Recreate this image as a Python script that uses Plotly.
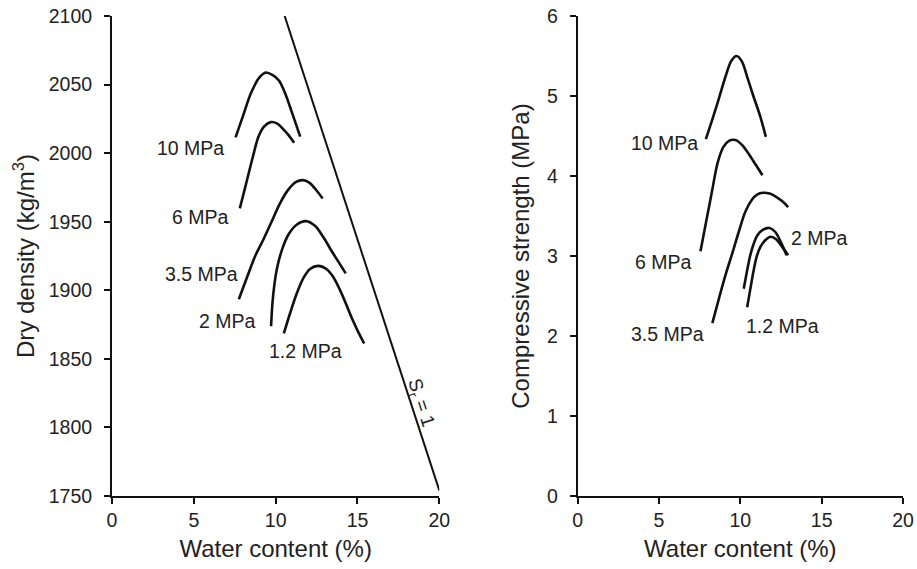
import plotly.graph_objects as go

# ---- Left panel: dry density vs water content ----
dd_10_x = [7.55, 8.0, 8.5, 9.0, 9.4, 9.8, 10.2, 10.6, 11.0, 11.5]
dd_10_y = [2011.5, 2027, 2044, 2055, 2058.8, 2057, 2053, 2043, 2029.5, 2012]
dd_6_x = [7.81, 8.2, 8.6, 8.95, 9.3, 9.7, 10.1, 10.5, 10.8, 11.13]
dd_6_y = [1959.7, 1978, 1997, 2012, 2019.5, 2022.6, 2021.5, 2017, 2013, 2007.6]
dd_35_x = [7.75, 8.25, 8.75, 9.25, 9.75, 10.25, 10.75, 11.25, 11.65, 12.05, 12.45, 12.87]
dd_35_y = [1893.5, 1909.5, 1925, 1937, 1950, 1963, 1973, 1979, 1980.3, 1978.5, 1973.5, 1967]
dd_2_x = [9.72, 9.8, 9.92, 10.1, 10.4, 10.8, 11.3, 11.85, 12.4, 12.9, 13.4, 13.85, 14.28]
dd_2_y = [1873.8, 1890, 1904, 1917, 1930, 1941, 1948, 1950.4, 1947, 1939, 1929, 1920.5, 1912.3]
dd_12_x = [10.5, 10.9, 11.3, 11.7, 12.1, 12.6, 13.1, 13.5, 13.9, 14.3, 14.7, 15.05, 15.41]
dd_12_y = [1868.5, 1884, 1898, 1909, 1915.5, 1917.8, 1915.5, 1910, 1901, 1890, 1878.5, 1869.5, 1861.2]
sat_x = [10.55, 20.0]
sat_y = [2100, 1754]

# ---- Right panel: compressive strength vs water content ----
cs_10_x = [7.88, 8.3, 8.7, 9.1, 9.45, 9.77, 10.1, 10.45, 10.8, 11.2, 11.57]
cs_10_y = [4.46, 4.72, 4.98, 5.25, 5.44, 5.5, 5.43, 5.22, 5.0, 4.76, 4.49]
cs_6_x = [7.55, 7.9, 8.25, 8.6, 8.95, 9.3, 9.7, 10.1, 10.5, 10.95, 11.36]
cs_6_y = [3.06, 3.43, 3.8, 4.16, 4.36, 4.44, 4.45, 4.39, 4.28, 4.14, 4.01]
cs_35_x = [8.28, 8.7, 9.1, 9.5, 9.9, 10.3, 10.7, 11.05, 11.4, 11.8, 12.2, 12.6, 12.94]
cs_35_y = [2.16, 2.48, 2.77, 3.03, 3.3, 3.55, 3.7, 3.77, 3.79, 3.78, 3.74, 3.68, 3.61]
cs_2_x = [10.21, 10.4, 10.6, 10.8, 11.05, 11.4, 11.8, 12.15, 12.5, 12.84]
cs_2_y = [2.59, 2.8, 3.0, 3.14, 3.26, 3.33, 3.35, 3.3, 3.17, 3.01]
cs_12_x = [10.42, 10.6, 10.8, 11.0, 11.25, 11.55, 11.86, 12.2, 12.55, 12.94]
cs_12_y = [2.36, 2.57, 2.8, 2.99, 3.12, 3.2, 3.24, 3.21, 3.12, 3.01]

left_labels = ["10 MPa", "6 MPa", "3.5 MPa", "2 MPa", "1.2 MPa"]
left_label_x = [6.95, 7.3, 7.81, 8.93, 11.85]
left_label_y = [2003.5, 1953.6, 1911.8, 1877.7, 1855.8]
left_label_anchor = ["right", "right", "right", "right", "center"]

right_labels = ["10 MPa", "6 MPa", "3.5 MPa", "2 MPa", "1.2 MPa"]
right_label_x = [7.55, 7.14, 7.88, 13.0, 10.2]
right_label_y = [4.41, 2.93, 2.02, 3.22, 2.12]
right_label_anchor = ["right", "right", "right", "left", "left"]

x_ticks = [0, 5, 10, 15, 20]
dd_ticks = [1750, 1800, 1850, 1900, 1950, 2000, 2050, 2100]
cs_ticks = [0, 1, 2, 3, 4, 5, 6]

FONT = "Liberation Sans, Arial, sans-serif"
INK = "#111111"
TXT = "#222222"

fig = go.Figure()
line = dict(color=INK, width=2.6, shape="spline", smoothing=0.9)

for xs, ys in [(dd_10_x, dd_10_y), (dd_6_x, dd_6_y), (dd_35_x, dd_35_y),
               (dd_2_x, dd_2_y), (dd_12_x, dd_12_y)]:
    fig.add_trace(go.Scatter(x=xs, y=ys, mode="lines", line=line,
                             xaxis="x", yaxis="y", showlegend=False))
fig.add_trace(go.Scatter(x=sat_x, y=sat_y, mode="lines",
                         line=dict(color=INK, width=2), xaxis="x", yaxis="y",
                         showlegend=False))

for xs, ys in [(cs_10_x, cs_10_y), (cs_6_x, cs_6_y), (cs_35_x, cs_35_y),
               (cs_2_x, cs_2_y), (cs_12_x, cs_12_y)]:
    fig.add_trace(go.Scatter(x=xs, y=ys, mode="lines", line=line,
                             xaxis="x2", yaxis="y2", showlegend=False))

annotations = []
for t, x, y, a in zip(left_labels, left_label_x, left_label_y, left_label_anchor):
    annotations.append(dict(text=t, x=x, y=y, xref="x", yref="y", xanchor=a,
                            yanchor="middle", showarrow=False,
                            font=dict(family=FONT, size=19.5, color=TXT)))
for t, x, y, a in zip(right_labels, right_label_x, right_label_y, right_label_anchor):
    annotations.append(dict(text=t, x=x, y=y, xref="x2", yref="y2", xanchor=a,
                            yanchor="middle", showarrow=False,
                            font=dict(family=FONT, size=19.5, color=TXT)))
annotations.append(dict(text="S<sub>r</sub> = 1", x=18.85, y=1818, xref="x", yref="y",
                        showarrow=False, textangle=72,
                        font=dict(family=FONT, size=19, color=TXT)))

axis_common = dict(showline=True, linecolor=INK, linewidth=2, ticks="outside",
                   ticklen=6, tickwidth=2, tickcolor=INK, showgrid=False,
                   zeroline=False, mirror=False, automargin=False,
                   tickfont=dict(family=FONT, size=19.5, color=TXT))
TFONT = dict(family=FONT, size=24, color=TXT)

fig.update_layout(
    width=917, height=569,
    margin=dict(l=112, r=14, t=16, b=73),
    paper_bgcolor="white", plot_bgcolor="white",
    showlegend=False,
    annotations=annotations,
    xaxis=dict(domain=[0, 0.4138], range=[0, 20], tickvals=x_ticks,
               title=dict(text="Water content (%)", standoff=10, font=TFONT),
               anchor="y", **axis_common),
    yaxis=dict(domain=[0, 1], range=[1750, 2100], tickvals=dd_ticks,
               ticklabelstandoff=8,
               title=dict(text="Dry density (kg/m<sup>3</sup>)", standoff=7, font=TFONT),
               anchor="x", **axis_common),
    xaxis2=dict(domain=[0.5887, 1], range=[0, 20], tickvals=x_ticks,
                title=dict(text="Water content (%)", standoff=10, font=TFONT),
                anchor="y2", **axis_common),
    yaxis2=dict(domain=[0, 1], range=[0, 6], tickvals=cs_ticks,
                ticklabelstandoff=8,
                title=dict(text="Compressive strength (MPa)", standoff=11, font=TFONT),
                anchor="x2", **axis_common),
)

fig.write_html("out.html", config={"displayModeBar": False},
               post_script="document.body.style.margin='0';")
